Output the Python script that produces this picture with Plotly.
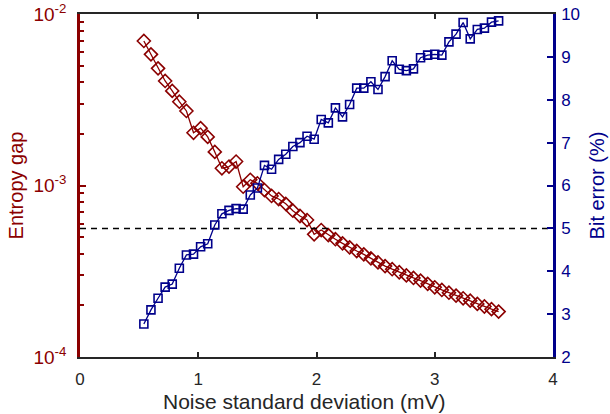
import plotly.graph_objects as go

noise_std = [round(0.54 + 0.06 * i, 2) for i in range(51)]

entropy_gap = [6.96e-3, 5.82e-3, 4.82e-3, 4.07e-3, 3.56e-3, 3.08e-3, 2.72e-3, 2.03e-3, 2.16e-3, 1.92e-3,
               1.57e-3, 1.26e-3, 1.29e-3, 1.38e-3, 9.84e-4, 1.08e-3, 1.03e-3, 9.41e-4, 8.69e-4, 8.34e-4,
               7.82e-4, 7.13e-4, 6.64e-4, 6.29e-4, 5.19e-4, 5.50e-4, 5.14e-4, 4.86e-4, 4.60e-4, 4.36e-4,
               4.15e-4, 3.97e-4, 3.76e-4, 3.56e-4, 3.39e-4, 3.25e-4, 3.12e-4, 2.99e-4, 2.89e-4, 2.79e-4,
               2.67e-4, 2.55e-4, 2.46e-4, 2.37e-4, 2.28e-4, 2.20e-4, 2.13e-4, 2.04e-4, 1.97e-4, 1.90e-4,
               1.84e-4]

bit_error = [2.77, 3.10, 3.37, 3.63, 3.70, 4.07, 4.38, 4.40, 4.57, 4.64,
             5.08, 5.34, 5.42, 5.46, 5.45, 5.78, 5.94, 6.47, 6.38, 6.61,
             6.73, 6.91, 7.00, 7.15, 7.08, 7.54, 7.46, 7.81, 7.60, 7.89,
             8.27, 8.27, 8.42, 8.24, 8.54, 8.91, 8.71, 8.68, 8.72, 8.98,
             9.04, 9.06, 9.04, 9.35, 9.53, 9.80, 9.42, 9.64, 9.67, 9.81,
             9.84]

threshold_x = [0, 4]
threshold_bit_error = [5, 5]

x_ticks = [0, 1, 2, 3, 4]
left_ticks = [1e-4, 1e-3, 1e-2]
left_ticktext = ["10<sup>-4</sup>", "10<sup>-3</sup>", "10<sup>-2</sup>"]
left_minor = [m * 10 ** e for e in (-4, -3) for m in range(2, 10)]
right_ticks = [2, 3, 4, 5, 6, 7, 8, 9, 10]

RED = "#8B0000"
BLUE = "#00008B"
GRAY = "#262626"
FONT = "Liberation Sans, Arial, sans-serif"

fig = go.Figure()

fig.add_trace(go.Scatter(
    x=threshold_x, y=threshold_bit_error, yaxis="y2", mode="lines",
    line=dict(color="black", width=1.5, dash="6px,5px"), showlegend=False, hoverinfo="skip"))

fig.add_trace(go.Scatter(
    x=noise_std, y=entropy_gap, mode="lines+markers",
    line=dict(color=RED, width=1.3),
    marker=dict(symbol="diamond-open", size=10, color=RED, line=dict(width=1.6, color=RED)),
    showlegend=False))

fig.add_trace(go.Scatter(
    x=noise_std, y=bit_error, yaxis="y2", mode="lines+markers",
    line=dict(color=BLUE, width=1.3),
    marker=dict(symbol="square-open", size=8, color=BLUE, line=dict(width=1.6, color=BLUE)),
    showlegend=False))

fig.update_layout(
    width=610, height=414,
    margin=dict(l=80, r=57, t=14, b=57),
    paper_bgcolor="white", plot_bgcolor="white",
    font=dict(family=FONT, size=17, color=GRAY),
    xaxis=dict(
        range=[0, 4], tickvals=x_ticks, ticks="inside", ticklen=5, tickwidth=1.5,
        tickcolor=GRAY, showline=True, linecolor=GRAY, linewidth=2, mirror="ticks",
        showgrid=False, zeroline=False, ticklabelstandoff=6, automargin=False,
        tickfont=dict(size=17, color=GRAY),
    ),
    yaxis=dict(
        type="log", range=[-4, -2], tickvals=left_ticks, ticktext=left_ticktext,
        ticks="inside", ticklen=6, tickwidth=2, tickcolor=RED, automargin=False,
        ticklabelstandoff=7,
        minor=dict(tickvals=left_minor, ticks="inside", ticklen=4, tickwidth=2, tickcolor=RED, showgrid=False),
        showline=True, linecolor=RED, linewidth=2.5, showgrid=False, zeroline=False,
        tickfont=dict(size=19, color=RED),
        title=dict(text="Entropy gap", font=dict(size=20, color=RED), standoff=5),
    ),
    yaxis2=dict(
        overlaying="y", side="right", range=[2, 10], tickvals=right_ticks,
        ticks="inside", ticklen=6, tickwidth=2, tickcolor=BLUE, automargin=False,
        showline=True, linecolor=BLUE, linewidth=2.5, showgrid=False, zeroline=False,
        ticklabelstandoff=2,
        tickfont=dict(size=17, color=BLUE),
        title=dict(text="Bit error (%)", font=dict(size=20, color=BLUE), standoff=11),
    ),
    annotations=[dict(
        text="Noise standard deviation (mV)", xref="paper", yref="paper",
        x=0.4736, y=0, xanchor="center", yanchor="top", yshift=-31, showarrow=False,
        font=dict(size=21, color=GRAY, family=FONT),
    )],
)

fig.write_html("out.html")
